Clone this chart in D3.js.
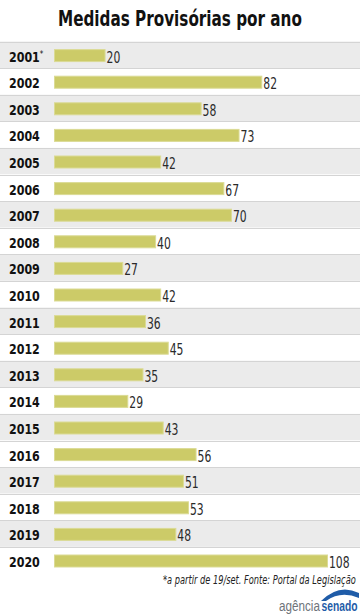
<!DOCTYPE html>
<html><head><meta charset="utf-8">
<script src="https://cdn.jsdelivr.net/npm/d3@7"></script>
<style>
html,body{margin:0;padding:0;background:#fff;}
svg{display:block;}
</style></head>
<body>
<script>
const years = ["2001*","2002","2003","2004","2005","2006","2007","2008","2009","2010","2011","2012","2013","2014","2015","2016","2017","2018","2019","2020"];
const values = [20,82,58,73,42,67,70,40,27,42,36,45,35,29,43,56,51,53,48,108];
const title = "Medidas Provisórias por ano";
const footnote = "*a partir de 19/set. Fonte: Portal da Legislação";

const W = 360, H = 616;
const FONT = "'DejaVu Sans Condensed','DejaVu Sans',sans-serif";
const svg = d3.select("body").append("svg").attr("width", W).attr("height", H);

const y = d3.scaleBand().domain(years).range([41.5, 41.5 + 26.6*20]).padding(0);
const x = d3.scaleLinear().domain([0,108]).range([54.5, 327.5]);

const rows = svg.append("g");
rows.selectAll("rect").data(years).join("rect")
  .attr("x",0).attr("width",W)
  .attr("y", d=>y(d)).attr("height", y.bandwidth())
  .attr("fill",(d,i)=> i%2===0 ? "#ebebeb" : "#ffffff");
rows.selectAll("line").data(years).join("line")
  .attr("x1",0).attr("x2",W)
  .attr("y1",d=> Math.round(y(d))+0.5).attr("y2",d=> Math.round(y(d))+0.5)
  .attr("stroke","#d4d4d4").attr("stroke-width",1);

const barH = 12;
svg.append("g").selectAll("rect").data(values).join("rect")
  .attr("x", x(0)).attr("y",(d,i)=> y(years[i]) + y.bandwidth()/2 - barH/2 + 0.8)
  .attr("width", d=> x(d)-x(0)).attr("height", barH)
  .attr("fill","#cccb68").attr("stroke","#dbdb95").attr("stroke-width",1);

// helper: place a text so that it spans exactly `width` px starting at x0 (horizontal squeeze)
function fitText(g, x0, y0, width, attrs, str) {
  const grp = g.append("g");
  const t = grp.append("text").text(str);
  Object.entries(attrs).forEach(([k,v])=>t.attr(k,v));
  const nat = t.node().getComputedTextLength();
  grp.attr("transform", `translate(${x0},${y0}) scale(${width/nat},1)`);
  return t;
}

// title
fitText(svg, 58, 26, 244, {"font-family":FONT,"font-weight":"bold","font-size":21,"fill":"#111"}, title);

// year labels (condensed via horizontal scale)
svg.append("g").selectAll("g").data(years).join("g")
  .attr("transform", d=> `translate(9,${y(d)+y.bandwidth()/2+6.7}) scale(0.88,1)`)
  .append("text")
  .attr("font-family",FONT).attr("font-weight","bold").attr("font-size",14).attr("fill","#111")
  .each(function(d){
    const t = d3.select(this);
    if (d.endsWith("*")) {
      t.append("tspan").text(d.slice(0,-1));
      t.append("tspan").attr("font-size",9).attr("dy",-4.5).attr("font-weight","normal").text("*");
    } else t.text(d);
  });

// value labels
svg.append("g").selectAll("g").data(values).join("g")
  .attr("transform",(d,i)=> `translate(${x(d)+1.5},${y(years[i])+y.bandwidth()/2+7.8}) scale(0.75,1)`)
  .append("text")
  .attr("font-family",FONT).attr("font-size",16).attr("fill","#2a2a2a").text(d=>d);

// footnote
fitText(svg, 163, 584, 193, {"font-family":FONT,"font-style":"italic","font-size":11.5,"fill":"#222"}, footnote);

// logo
const logo = svg.append("g");
logo.append("path").attr("d","M321,601 Q339,583 359,593 L359,598 Q341,590 326,601 Z").attr("fill","#1f5ca8");
fitText(logo, 279, 611, 41, {"font-family":"'Liberation Sans',Arial,sans-serif","font-size":14.5,"fill":"#6e7379"}, "agência");
fitText(logo, 321.5, 611, 36, {"font-family":"'Liberation Sans',Arial,sans-serif","font-size":14.5,"font-weight":"bold","fill":"#1f5ca8"}, "senado");
</script>
</body></html>
